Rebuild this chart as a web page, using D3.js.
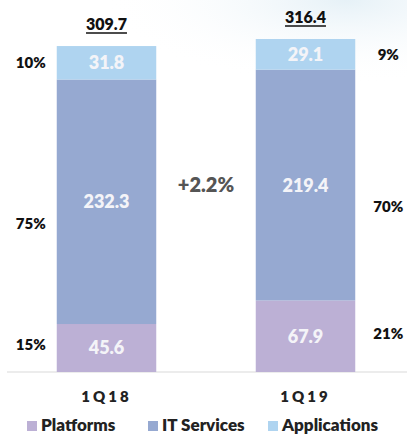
<!DOCTYPE html>
<html><head><meta charset="utf-8">
<script src="https://cdn.jsdelivr.net/npm/d3@7"></script>
<style>
html,body{margin:0;padding:0;background:#fff;}
svg{display:block;font-family:Lato,"Open Sans",sans-serif;}
</style></head>
<body>
<svg id="chart" width="407" height="434"></svg>
<script>
const categories = ["1Q18", "1Q19"];
const seriesNames = ["Platforms", "IT Services", "Applications"];
const platforms = [45.6, 67.9];
const itServices = [232.3, 219.4];
const applications = [31.8, 29.1];
const totals = [309.7, 316.4];
const sharePlatforms = ["15%", "21%"];
const shareIT = ["75%", "70%"];
const shareApps = ["10%", "9%"];
const growthLabel = "+2.2%";
const colors = ["#bcb0d5", "#96a9d1", "#afd4f0"];

const svg = d3.select("#chart");
const W = 407, H = 434;
const FW = 800;

// subtle background tint at top right
const defs = svg.append("defs");
const grad = defs.append("radialGradient").attr("id","bgg").attr("cx","0.85").attr("cy","0").attr("r","0.6");
grad.append("stop").attr("offset","0").attr("stop-color","#e6f1f7");
grad.append("stop").attr("offset","1").attr("stop-color","#ffffff").attr("stop-opacity",0);
svg.append("rect").attr("width",W).attr("height",H).attr("fill","#fff");
svg.append("rect").attr("width",W).attr("height",140).attr("fill","url(#bgg)");

const x = d3.scaleBand().domain(categories).range([7, 405]).paddingInner(0.5).paddingOuter(0.25);
const y = d3.scaleLinear().domain([0, 316.4]).range([372, 39]);

const rows = categories.map((c, i) => ({cat: c, Platforms: platforms[i], "IT Services": itServices[i], Applications: applications[i]}));
const stacked = d3.stack().keys(seriesNames)(rows);
const shares = [sharePlatforms, shareIT, shareApps];

// axis baseline
svg.append("line").attr("x1", 7).attr("x2", W).attr("y1", y(0)).attr("y2", y(0))
  .attr("stroke", "#d9d9d9").attr("stroke-width", 1);

stacked.forEach((layer, si) => {
  const g = svg.append("g");
  g.selectAll("rect").data(layer).join("rect")
    .attr("x", d => x(d.data.cat))
    .attr("width", x.bandwidth())
    .attr("y", d => y(d[1]))
    .attr("height", d => y(d[0]) - y(d[1]))
    .attr("fill", colors[si]);
  g.selectAll("text.val").data(layer).join("text").attr("class","val")
    .attr("x", d => x(d.data.cat) + x.bandwidth()/2)
    .attr("y", d => (y(d[0]) + y(d[1]))/2)
    .attr("dy", "0.36em")
    .attr("text-anchor", "middle")
    .attr("fill", "#f4f4f8").attr("font-size", 18).attr("font-weight", FW)
    .text(d => d3.format(".1f")(d[1]-d[0]));
  // share labels
  g.selectAll("text.share").data(layer).join("text").attr("class","share")
    .attr("x", (d, i) => i === 0 ? x(d.data.cat) - 11 : x(d.data.cat) + x.bandwidth() + 33)
    .attr("y", d => (y(d[0]) + y(d[1]))/2 + (si === 1 ? 22 : 0) + (si === 0 ? -3 : 0))
    .attr("dy", "0.36em")
    .attr("text-anchor", (d, i) => i === 0 ? "end" : "middle")
    .attr("fill", "#111").attr("font-size", 15).attr("font-weight", FW)
    .text((d, i) => shares[si][i]);
});

// totals
const tot = svg.append("g");
categories.forEach((c, i) => {
  const t = tot.append("text")
    .attr("x", x(c) + x.bandwidth()/2)
    .attr("y", y(totals[i]) - 16)
    .attr("text-anchor", "middle")
    .attr("fill", "#111").attr("font-size", 16).attr("font-weight", FW)
    .text(d3.format(".1f")(totals[i]));
  const bb = t.node().getBBox();
  tot.append("line").attr("x1", bb.x).attr("x2", bb.x + bb.width)
    .attr("y1", y(totals[i]) - 13).attr("y2", y(totals[i]) - 13)
    .attr("stroke", "#111").attr("stroke-width", 1.4);
});

// growth label
svg.append("text")
  .attr("x", (x(categories[0]) + x(categories[1]) + x.bandwidth())/2)
  .attr("y", 185).attr("dy", "0.36em")
  .attr("text-anchor", "middle").attr("fill", "#555").attr("font-size", 20).attr("font-weight", FW)
  .text(growthLabel);

// category axis labels
const xAxis = d3.axisBottom(x).tickSize(0).tickPadding(0);
const ax = svg.append("g").attr("transform", `translate(0,${y(0)})`).call(xAxis);
ax.select(".domain").remove();
ax.selectAll("text")
  .attr("y", 25).attr("dy", "0.36em")
  .attr("font-family", "Lato, sans-serif").attr("font-size", 15).attr("font-weight", FW)
  .attr("letter-spacing", "3px").attr("fill", "#222");

// legend
const legendX = [27, 148, 268];
const lg = svg.append("g");
seriesNames.forEach((s, i) => {
  lg.append("rect").attr("x", legendX[i]).attr("y", 421).attr("width", 10).attr("height", 10).attr("fill", colors[i]);
  lg.append("text").attr("x", legendX[i] + 14).attr("y", 425).attr("dy", "0.36em")
    .attr("fill", "#222").attr("font-size", 17).attr("font-weight", FW).text(s);
});
</script>
</body></html>
